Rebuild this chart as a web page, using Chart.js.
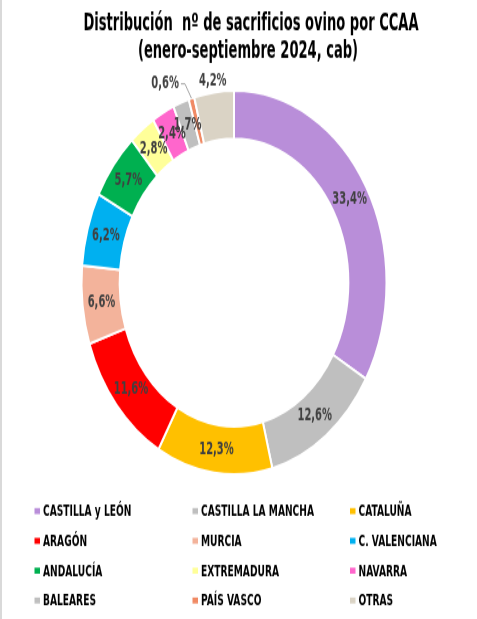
<!DOCTYPE html>
<html lang="es">
<head>
    <meta charset="UTF-8">
    <title>Distribución nº de sacrificios ovino por CCAA</title>
    <script src="https://cdn.jsdelivr.net/npm/chart.js"></script>
    <style>
        html, body { margin: 0; padding: 0; background: #fff; overflow: hidden; }
        #edge { position: absolute; left: 0; top: 0; width: 2px; height: 619px; background: #d9d9d9; }
        #wrap { position: absolute; left: 0; top: 0; width: 477px; height: 492px;
                transform: scaleY(1.2581); transform-origin: 0 0; }
    </style>
</head>
<body>
    <div id="edge"></div>
    <div id="wrap"><canvas id="chart" width="477" height="492"></canvas></div>
    <script>
        const regions = ['CASTILLA y LEÓN', 'CASTILLA LA MANCHA', 'CATALUÑA', 'ARAGÓN', 'MURCIA',
            'C. VALENCIANA', 'ANDALUCÍA', 'EXTREMADURA', 'NAVARRA', 'BALEARES', 'PAÍS VASCO', 'OTRAS'];
        const shares = [33.4, 12.6, 12.3, 11.6, 6.6, 6.2, 5.7, 2.8, 2.4, 1.7, 0.6, 4.2];
        const colors = ['#b98ed9', '#bfbfbf', '#ffc000', '#ff0000', '#f3b39b', '#00b0f0',
            '#00b050', '#ffff99', '#ff66cc', '#bfbfbf', '#f08a64', '#dad3c5'];
        const titleLines = ['Distribución  nº de sacrificios ovino por CCAA', '(enero-septiembre 2024, cab)'];

        const FONT = "'DejaVu Sans Condensed', 'DejaVu Sans', sans-serif";

        function pct(v) {
            return v.toFixed(1).replace('.', ',') + '%';
        }

        // the source font is much narrower than DejaVu, so squeeze horizontally
        function narrowText(ctx, s, x, y, sx) {
            ctx.save();
            ctx.translate(x, y);
            ctx.scale(sx, 1);
            ctx.fillText(s, 0, 0);
            ctx.restore();
        }

        // title, value labels and the 3-column legend
        const decor = {
            id: 'decor',
            afterDatasetsDraw(chart) {
                const ctx = chart.ctx;
                const meta = chart.getDatasetMeta(0);
                ctx.save();

                ctx.fillStyle = '#000';
                ctx.textAlign = 'center';
                ctx.textBaseline = 'alphabetic';
                ctx.font = 'bold 19px ' + FONT;
                narrowText(ctx, titleLines[0], 251, 24, 0.765);
                narrowText(ctx, titleLines[1], 248, 46.2, 0.765);

                const lblSx = 0.79;
                ctx.font = 'bold 14px ' + FONT;
                ctx.fillStyle = '#404040';
                ctx.textBaseline = 'middle';
                meta.data.forEach((arc, i) => {
                    const p = arc.getProps(['x', 'y', 'startAngle', 'endAngle', 'innerRadius', 'outerRadius'], true);
                    const mid = (p.startAngle + p.endAngle) / 2;
                    const txt = pct(shares[i]);
                    if (i === 10) {
                        // small slice: label pushed out with a leader line
                        const r = p.outerRadius + 12;
                        const lx = p.x + Math.cos(mid) * r - 23;
                        const ly = p.y + Math.sin(mid) * r;
                        const w = ctx.measureText(txt).width * lblSx;
                        narrowText(ctx, txt, lx, ly, lblSx);
                        ctx.strokeStyle = '#8c8c8c';
                        ctx.lineWidth = 0.8;
                        ctx.beginPath();
                        ctx.moveTo(lx + w / 2 + 2, ly);
                        ctx.lineTo(lx + w / 2 + 6, ly);
                        ctx.lineTo(p.x + Math.cos(mid) * p.outerRadius, p.y + Math.sin(mid) * p.outerRadius);
                        ctx.stroke();
                        return;
                    }
                    const r = i === 11 ? p.outerRadius + 9 : (p.innerRadius + p.outerRadius) / 2;
                    narrowText(ctx, txt, p.x + Math.cos(mid) * r, p.y + Math.sin(mid) * r, lblSx);
                });

                ctx.font = 'bold 12px ' + FONT;
                ctx.textAlign = 'left';
                ctx.textBaseline = 'alphabetic';
                const colX = [34.5, 192.5, 350];
                regions.forEach((name, i) => {
                    const x = colX[i % 3];
                    const base = 410.2 + Math.floor(i / 3) * 23.7;
                    ctx.fillStyle = colors[i];
                    ctx.fillRect(x, base - 6.4, 5.5, 4.8);
                    ctx.fillStyle = '#000';
                    narrowText(ctx, name, x + 8.5, base, 0.845);
                });
                ctx.restore();
            }
        };

        new Chart(document.getElementById('chart').getContext('2d'), {
            type: 'doughnut',
            data: {
                labels: regions,
                datasets: [{
                    data: shares,
                    backgroundColor: colors,
                    borderColor: '#ffffff',
                    borderWidth: 2
                }]
            },
            options: {
                responsive: false,
                animation: false,
                events: [],
                cutout: '75%',
                layout: { padding: { left: 80.5, right: 89.5, top: 71.1, bottom: 113.9 } },
                plugins: {
                    legend: { display: false },
                    title: { display: false },
                    tooltip: { enabled: false }
                }
            },
            plugins: [decor]
        });
    </script>
</body>
</html>
